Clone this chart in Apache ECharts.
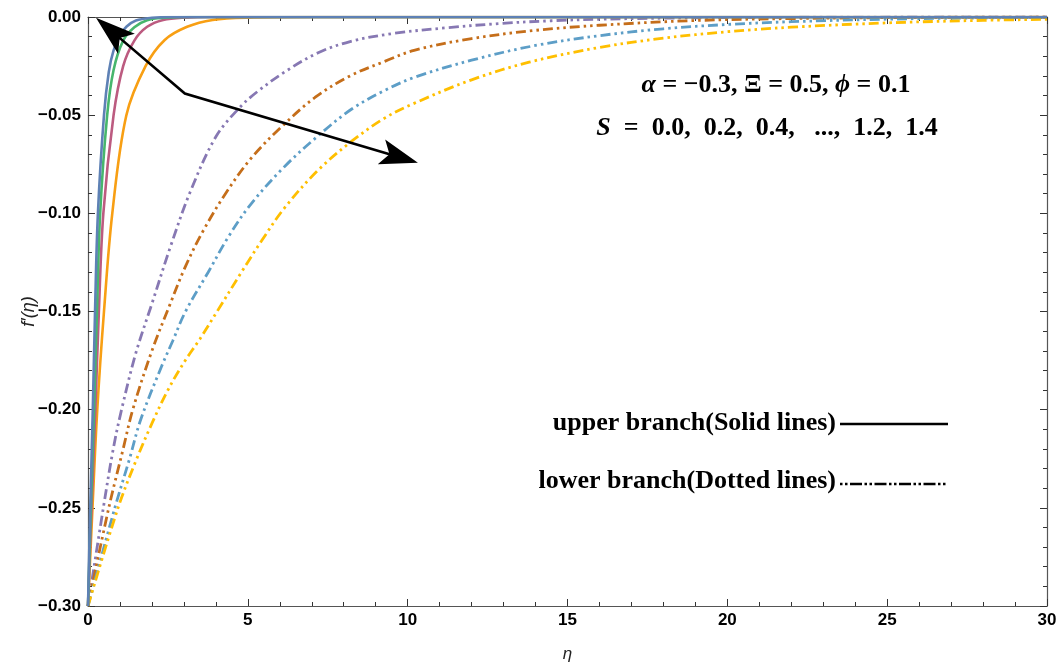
<!DOCTYPE html>
<html>
<head>
<meta charset="utf-8">
<script src="https://cdn.jsdelivr.net/npm/echarts@6/dist/echarts.min.js"></script>
<style>
  html, body { margin: 0; padding: 0; background: #ffffff; }
  #chart { width: 1061px; height: 668px; }
</style>
</head>
<body>
<div id="chart"></div>
<script>
// Axis ticks
const etaTicks = [0, 5, 10, 15, 20, 25, 30];
const fTicks = [0, -0.05, -0.10, -0.15, -0.20, -0.25, -0.30];

// Upper branch solutions f'(eta), solid lines
const upperA_eta = [0, 0.07, 0.15, 0.22, 0.31, 0.5, 0.65, 0.8, 1.0, 1.2, 1.5, 2.0, 2.6, 30];
const upperA_f   = [-0.30, -0.25, -0.20, -0.15, -0.10, -0.05, -0.028, -0.017, -0.0095, -0.005, -0.0018, -0.0004, 0, 0];
const upperB_eta = [0, 0.09, 0.19, 0.28, 0.38, 0.6, 0.8, 1.1, 1.45, 1.85, 2.4, 3.2, 30];
const upperB_f   = [-0.30, -0.25, -0.20, -0.15, -0.10, -0.05, -0.027, -0.012, -0.0052, -0.0016, -0.0004, 0, 0];
const upperC_eta = [0, 0.11, 0.23, 0.34, 0.48, 0.8, 1.1, 1.45, 1.85, 2.35, 3.0, 4.0, 30];
const upperC_f   = [-0.30, -0.25, -0.20, -0.15, -0.10, -0.05, -0.025, -0.012, -0.005, -0.0015, -0.0003, 0, 0];
const upperD_eta = [0, 0.14, 0.29, 0.5, 0.76, 1.2, 1.8, 2.4, 3.1, 3.9, 5.0, 7.0, 30];
const upperD_f   = [-0.30, -0.25, -0.20, -0.15, -0.10, -0.05, -0.025, -0.0117, -0.005, -0.0015, -0.0003, 0, 0];

// Lower branch solutions f'(eta), dash-dot-dot lines
const lowerA_eta = [0, 0.48, 0.79, 1.05, 1.5, 2.0, 2.6, 3.2, 4.0, 4.75, 5.3, 6.2, 7.2, 8.2, 9.5, 11.2, 12.9, 14.5, 16.1, 18, 20, 23, 26, 30];
const lowerA_f   = [-0.30, -0.25, -0.22, -0.20, -0.171, -0.146, -0.116, -0.089, -0.061, -0.046, -0.038, -0.0275, -0.0182, -0.0125, -0.0085, -0.0055, -0.0033, -0.0019, -0.0011, -0.0006, -0.0003, -0.0001, 0, 0];
const lowerB_eta = [0, 0.65, 1.1, 1.4, 2.0, 2.55, 3.05, 3.6, 4.3, 5.1, 6.05, 7.1, 8.2, 9.3, 10.2, 12, 14, 16, 19, 22, 26, 30];
const lowerB_f   = [-0.30, -0.25, -0.22, -0.20, -0.17, -0.147, -0.127, -0.109, -0.09, -0.072, -0.056, -0.041, -0.030, -0.0225, -0.017, -0.011, -0.0068, -0.0042, -0.0018, -0.0008, -0.0002, 0];
const lowerC_eta = [0, 0.84, 1.3, 1.65, 2.3, 2.65, 3.05, 3.76, 4.39, 5.11, 6.16, 7.2, 8.24, 9.28, 10.22, 12, 14, 16, 18, 20, 22, 25, 28, 30];
const lowerC_f   = [-0.30, -0.25, -0.225, -0.205, -0.178, -0.165, -0.15, -0.13, -0.112, -0.095, -0.076, -0.0605, -0.047, -0.0374, -0.0307, -0.022, -0.0145, -0.0095, -0.006, -0.0038, -0.0024, -0.0011, -0.0005, -0.0003];
const lowerD_eta = [0, 0.94, 1.5, 2.0, 2.5, 3.0, 3.5, 4.0, 4.8, 5.43, 6.16, 7.2, 8.24, 9.28, 10.2, 12, 13.8, 16, 18, 20, 22, 25, 28, 30];
const lowerD_f   = [-0.30, -0.25, -0.226, -0.207, -0.19, -0.176, -0.164, -0.151, -0.13, -0.114, -0.097, -0.078, -0.0634, -0.0515, -0.044, -0.032, -0.023, -0.0155, -0.0108, -0.0075, -0.0052, -0.003, -0.0017, -0.0012];

const upperColors = ['#5E81B5', '#47B66D', '#BC5B80', '#F89F13'];
const lowerColors = ['#8778B3', '#C56E1A', '#5D9EC7', '#FFBF00'];

const pairs = (xs, ys) => xs.map((x, i) => [x, ys[i]]);
const upperSets = [[upperA_eta, upperA_f], [upperB_eta, upperB_f], [upperC_eta, upperC_f], [upperD_eta, upperD_f]];
const lowerSets = [[lowerA_eta, lowerA_f], [lowerB_eta, lowerB_f], [lowerC_eta, lowerC_f], [lowerD_eta, lowerD_f]];

const dashDotDot = [10, 4, 2.5, 4, 2.5, 4];

const series = [];
lowerSets.forEach((s, i) => series.push({
  type: 'line', data: pairs(s[0], s[1]), showSymbol: false, smooth: 0.35,
  clip: true, silent: true, z: 2,
  lineStyle: { color: lowerColors[i], width: 2.8, type: dashDotDot, cap: 'butt' }
}));
// solid curves, drawn slowest first so the fastest-decaying one sits on top along f' = 0
for (let i = upperSets.length - 1; i >= 0; i--) {
  const s = upperSets[i];
  series.push({
    type: 'line', data: pairs(s[0], s[1]), showSymbol: false, smooth: 0.35,
    clip: true, silent: true, z: 3,
    lineStyle: { color: upperColors[i], width: 2.6 }
  });
}

const sansFont = '"Liberation Sans", Arial, sans-serif';
const serifFont = '"Liberation Serif", "Times New Roman", serif';
const minus = v => (v < 0 ? '\u2212' : '') + Math.abs(v).toFixed(2);

const frameColor = '#555555';
const baseX = {
  type: 'value', min: 0, max: 30, interval: 5,
  splitLine: { show: false },
  axisLine: { show: true, onZero: false, lineStyle: { color: frameColor, width: 1.2 } },
  axisTick: { show: true, inside: true, length: 7, lineStyle: { color: '#333', width: 1 } },
  minorTick: { show: true, splitNumber: 5, length: 4, lineStyle: { color: '#333', width: 1 } }
};
const baseY = {
  type: 'value', min: -0.30, max: 0, interval: 0.05,
  splitLine: { show: false },
  axisLine: { show: true, onZero: false, lineStyle: { color: frameColor, width: 1.2 } },
  axisTick: { show: true, inside: true, length: 7, lineStyle: { color: '#333', width: 1 } },
  minorTick: { show: true, splitNumber: 5, length: 4, lineStyle: { color: '#333', width: 1 } }
};

const chart = echarts.init(document.getElementById('chart'), null, { renderer: 'canvas' });
chart.setOption({
  animation: false,
  backgroundColor: '#ffffff',
  grid: { left: 88, right: 14, top: 17, bottom: 60, containLabel: false },
  xAxis: [
    Object.assign({}, baseX, {
      position: 'bottom',
      axisLabel: {
        show: true, margin: 6, color: '#000', fontFamily: sansFont, fontWeight: 'bold', fontSize: 17,
        formatter: v => etaTicks.includes(v) ? String(v) : ''
      },
      name: '\u03b7', nameLocation: 'middle', nameGap: 40,
      nameTextStyle: { fontFamily: sansFont, fontStyle: 'italic', fontSize: 17, color: '#222' }
    }),
    Object.assign({}, baseX, { position: 'top', axisLabel: { show: false } })
  ],
  yAxis: [
    Object.assign({}, baseY, {
      position: 'left',
      axisLabel: {
        show: true, margin: 7, color: '#000', fontFamily: sansFont, fontWeight: 'bold', fontSize: 17,
        formatter: v => {
          const t = fTicks.find(k => Math.abs(k - v) < 1e-9);
          return t === undefined ? '' : minus(t);
        }
      },
      name: 'f\u2032(\u03b7)', nameLocation: 'middle', nameGap: 50, nameRotate: 90, nameMoveOverlap: false,
      nameTextStyle: { fontFamily: sansFont, fontStyle: 'italic', fontSize: 18, color: '#222' }
    }),
    Object.assign({}, baseY, { position: 'right', axisLabel: { show: false } })
  ],
  series: series
});

// Arrow annotation (in data coordinates) and text blocks
const arrowPts = [[0.25, -0.0004], [3.03, -0.039], [10.32, -0.0742]];
const px = arrowPts.map(p => chart.convertToPixel({ xAxisIndex: 0, yAxisIndex: 0 }, p));

function head(tip, from, len, half) {
  const dx = tip[0] - from[0], dy = tip[1] - from[1];
  const d = Math.hypot(dx, dy), ux = dx / d, uy = dy / d;
  const bx = tip[0] - ux * len, by = tip[1] - uy * len;
  return [tip, [bx - uy * half, by + ux * half], [tip[0] - ux * len * 0.78, tip[1] - uy * len * 0.78], [bx + uy * half, by - ux * half]];
}
const h1 = head(px[0], px[1], 40, 13);
const h2 = head(px[2], px[1], 38, 13);
const shaftStart = [px[0][0] + (px[1][0] - px[0][0]) * 0.12, px[0][1] + (px[1][1] - px[0][1]) * 0.12];
const shaftEnd = [px[2][0] + (px[1][0] - px[2][0]) * 0.1, px[2][1] + (px[1][1] - px[2][1]) * 0.1];

const textStyleBold = { fontFamily: serifFont, fontWeight: 'bold', fontSize: 26, fill: '#000' };
const italicRich = { i: { fontFamily: serifFont, fontWeight: 'bold', fontStyle: 'italic', fontSize: 26, fill: '#000' } };

chart.setOption({
  graphic: [
    { type: 'polyline', shape: { points: [shaftStart, px[1], shaftEnd] }, style: { stroke: '#000', lineWidth: 2.6, fill: null }, z: 100 },
    { type: 'polygon', shape: { points: h1 }, style: { fill: '#000' }, z: 100 },
    { type: 'polygon', shape: { points: h2 }, style: { fill: '#000' }, z: 100 },
    {
      type: 'text', x: 776, y: 85, z: 100,
      style: Object.assign({
        text: '{i|\u03b1} = \u22120.3, \u039e = 0.5, {i|\u03d5} = 0.1',
        align: 'center', verticalAlign: 'middle', rich: italicRich
      }, textStyleBold)
    },
    {
      type: 'text', x: 767, y: 128, z: 100,
      style: Object.assign({
        text: '{i|S}  =  0.0,  0.2,  0.4,   ...,  1.2,  1.4',
        align: 'center', verticalAlign: 'middle', rich: italicRich
      }, textStyleBold)
    },
    {
      type: 'text', x: 836, y: 423, z: 100,
      style: Object.assign({ text: 'upper branch(Solid lines)', align: 'right', verticalAlign: 'middle' }, textStyleBold)
    },
    {
      type: 'text', x: 836, y: 481, z: 100,
      style: Object.assign({ text: 'lower branch(Dotted lines)', align: 'right', verticalAlign: 'middle' }, textStyleBold)
    },
    { type: 'line', shape: { x1: 840, y1: 424, x2: 948, y2: 424 }, style: { stroke: '#000', lineWidth: 2.4 }, z: 100 },
    { type: 'line', shape: { x1: 840, y1: 484, x2: 948, y2: 484 }, style: { stroke: '#000', lineWidth: 2.4, lineDash: [2.5, 2.5, 2.5, 2.5, 12, 2.5] }, z: 100 }
  ]
});
</script>
</body>
</html>
